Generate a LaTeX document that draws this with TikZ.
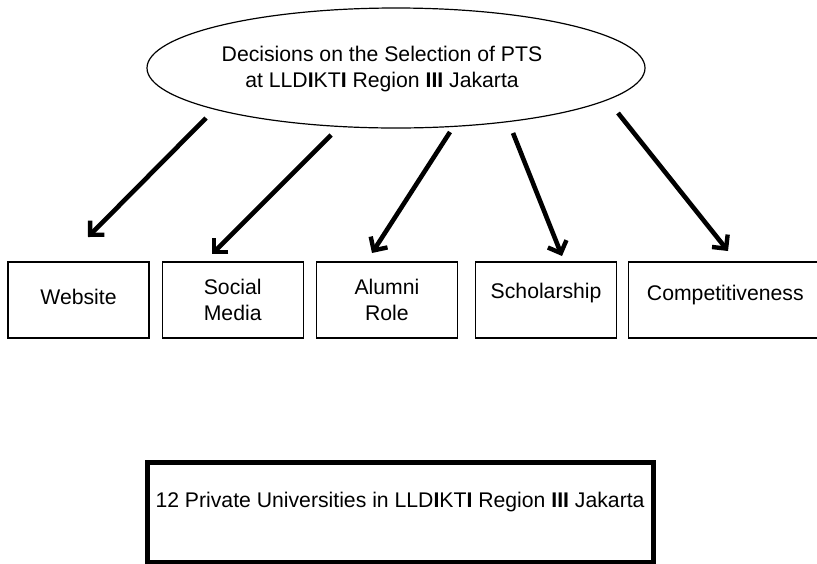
\documentclass[tikz,border=0pt]{standalone}
\usepackage{fontspec}
\setmainfont{Liberation Sans}
\usetikzlibrary{shapes.geometric}
\usetikzlibrary{arrows.meta}
\usetikzlibrary{positioning}

\begin{document}
\begin{tikzpicture}[x=0.5pt, y=-0.5pt,
    every node/.style={font=\fontsize{10.6}{12.8}\selectfont, align=center},
    box/.style={draw, line width=0.6pt, minimum width=70.5pt, minimum height=38pt, inner sep=2pt},
    arr/.style={line width=2.3pt, -{Straight Barb[length=5pt, width=10pt, line width=2.2pt]}}]
        \useasboundingbox (0,0) rectangle (817,563);

        \node[ellipse, draw, line width=0.6pt, inner sep=0pt, minimum width=249pt, minimum height=60pt] (dec) at (396,68) {};
        \node (dectxt) at (382,69) {Decisions on the Selection of PTS\\at LLD\textbf{I}KT\textbf{I} Region \textbf{III} Jakarta};

        \node[box, text depth=3pt] (web) at (78.5,300) {Website};
        \node[box, right=6pt of web] (soc) {Social\\Media};
        \node[box, right=6pt of soc] (alu) {Alumni\\Role};
        \node[box, text depth=9.2pt, right=8.5pt of alu] (sch) {Scholarship};
        \node[box, text depth=7pt, minimum width=96.5pt, right=5.5pt of sch] (com) {Competitiveness};

        \node[draw, line width=2.5pt, minimum width=253pt, minimum height=50pt, text depth=12pt] (pts) at (400,512)
          {12 Private Universities in LLD\textbf{I}KT\textbf{I} Region \textbf{III} Jakarta};

        \coordinate (t1) at (206,118); \coordinate (h1) at (88,237);
        \coordinate (t2) at (331,135); \coordinate (h2) at (212,254);
        \coordinate (t3) at (450,132); \coordinate (h3) at (372,253);
        \coordinate (t4) at (513,133); \coordinate (h4) at (562,256);
        \coordinate (t5) at (618,113); \coordinate (h5) at (728,251);

        \draw[arr] (t1) -- (h1);
        \draw[arr] (t2) -- (h2);
        \draw[arr] (t3) -- (h3);
        \draw[arr] (t4) -- (h4);
        \draw[arr] (t5) -- (h5);
      \end{tikzpicture}
\end{document}
